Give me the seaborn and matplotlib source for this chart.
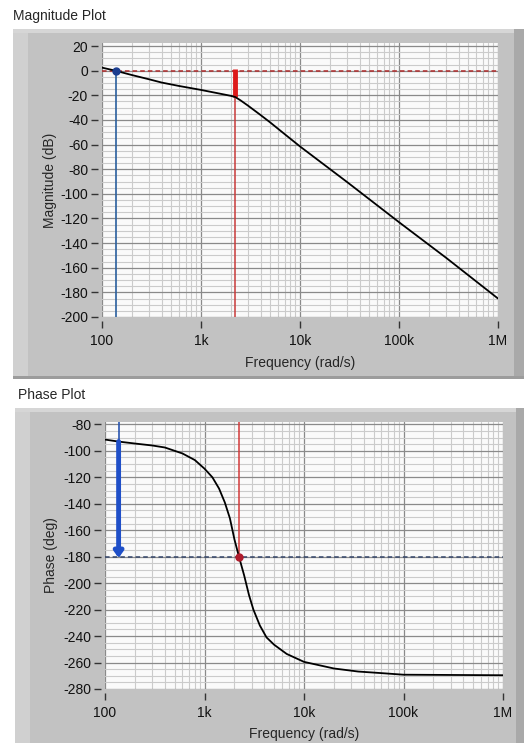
import numpy as np
import pandas as pd
import matplotlib
matplotlib.use("Agg")
import matplotlib.pyplot as plt
from matplotlib.patches import Rectangle
from matplotlib.ticker import FixedLocator, FixedFormatter, MultipleLocator, LogLocator, NullFormatter
import seaborn as sns

# values
mag_freq = [100, 137, 200, 300, 400, 600, 1000, 1500, 2000, 2220, 2500, 3000,
            4000, 5000, 7000, 10000, 30000, 100000, 300000, 1000000]
mag_db = [2.5, 0, -3.5, -7, -9.6, -12.4, -15.6, -18.4, -20.4, -21.4, -24, -28.5,
          -36, -42, -51.5, -61.5, -90.5, -123, -152, -185]

phase_freq = [100, 136, 200, 300, 400, 600, 800, 1000, 1200, 1400, 1600, 1800,
              2000, 2220, 2500, 2800, 3100, 3600, 4200, 5000, 6700, 10000,
              20000, 35000, 60000, 100000, 1000000]
phase_deg = [-91.5, -93, -94.5, -96, -97.5, -102, -107, -113.5, -120, -128.5,
             -139, -151, -167, -180, -194, -209, -220, -232, -241, -246.5,
             -253.5, -259.5, -264.5, -266.8, -268, -269.2, -269.6]

gain_cross_freq = 137      # blue cursor
phase_cross_freq = 2220    # red cursor
gain_margin_db = -21.4
phase_at_gain_cross = -93

freq_ticks = [100, 1e3, 1e4, 1e5, 1e6]
freq_tick_labels = ["100", "1k", "10k", "100k", "1M"]
mag_ticks = list(range(-200, 21, 20))
phase_ticks = list(range(-280, -79, 20))

sns.set_style("white")
plt.rcParams["font.family"] = ["Liberation Sans", "DejaVu Sans"]
plt.rcParams["axes.unicode_minus"] = False

W, H = 524, 743
fig = plt.figure(figsize=(W / 100, H / 100), dpi=100)
fig.patch.set_facecolor("white")


def px_rect(x0, y0, x1, y1, color):
    # rectangle given in picture pixels (top-left origin)
    fig.add_artist(Rectangle((x0 / W, 1 - y1 / H), (x1 - x0) / W, (y1 - y0) / H,
                             transform=fig.transFigure, facecolor=color,
                             edgecolor="none", zorder=-10))


def panel(x0, y0, y1, xr):
    px_rect(x0, y0, W, y1, "#c2c2c2")
    px_rect(x0, y0, x0 + 15, y1, "#d0d0d0")
    px_rect(x0, y0, W, y0 + 4, "#d6d6d6")
    px_rect(xr, y0, W, y1, "#a9a9a9")


panel(13, 29, 378, 514)
px_rect(13, 376, W, 379, "#9c9c9c")
panel(15, 408, H, 516)

fig.text(13 / W, 1 - 16 / H, "Magnitude Plot", fontsize=10, va="center", ha="left")
fig.text(18 / W, 1 - 395 / H, "Phase Plot", fontsize=10, va="center", ha="left")


def px_axes(x0, y0, x1, y1):
    return fig.add_axes([x0 / W, 1 - y1 / H, (x1 - x0) / W, (y1 - y0) / H])


def style(ax, yticks, ylim):
    ax.set_facecolor("#fafafa")
    ax.set_xscale("log")
    ax.set_xlim(100, 1e6)
    ax.set_ylim(*ylim)
    ax.xaxis.set_major_locator(FixedLocator(freq_ticks))
    ax.xaxis.set_major_formatter(FixedFormatter(freq_tick_labels))
    ax.xaxis.set_minor_locator(LogLocator(base=10, subs=range(2, 10)))
    ax.xaxis.set_minor_formatter(NullFormatter())
    ax.yaxis.set_major_locator(FixedLocator(yticks))
    ax.yaxis.set_minor_locator(MultipleLocator(5))
    ax.grid(which="minor", color="#cbcbcb", lw=0.8)
    ax.grid(which="major", color="#8a8a8a", lw=0.9)
    ax.set_axisbelow(True)
    for side in ["top", "right"]:
        ax.spines[side].set_visible(False)
    for side in ["bottom", "left"]:
        ax.spines[side].set_position(("outward", 3))
        ax.spines[side].set_color("none")
    ax.tick_params(which="major", bottom=True, left=True, direction="out",
                   length=5, width=1, color="#333333", labelsize=10, pad=2,
                   labelcolor="#111111")
    ax.tick_params(axis="x", which="major", pad=4)
    ax.tick_params(which="minor", bottom=False, left=False, length=0)
    ax.set_xlabel("Frequency (rad/s)", fontsize=10)


# ---- magnitude ----
ax1 = px_axes(102, 43, 498, 317)
style(ax1, mag_ticks, (-200, 22.5))
mag_df = pd.DataFrame({"freq": mag_freq, "db": mag_db})
sns.lineplot(data=mag_df, x="freq", y="db", ax=ax1, color="black", lw=1.3,
             estimator=None, sort=True, zorder=5)
ax1.axhline(0, color="#b02a2a", lw=1.1, ls=(0, (3, 2)), zorder=4)
ax1.vlines(gain_cross_freq, -200, 0, color="#2a5f9e", lw=1.2, zorder=4)
ax1.plot([gain_cross_freq], [0], "o", color="#1c3d8f", ms=5, zorder=6)
ax1.vlines(phase_cross_freq, -200, 0, color="#c83a3a", lw=1.1, zorder=4)
ax1.vlines(phase_cross_freq, gain_margin_db, 1.5, color="#dd1a1a", lw=3.5, zorder=4)
ax1.set_ylabel("Magnitude (dB)", fontsize=10)
ax1.yaxis.set_label_coords(-0.114, 0.5)
ax1.xaxis.set_label_coords(0.5, -0.142)
ax1.xaxis.label.set_va("top")

# ---- phase ----
ax2 = px_axes(105, 421.7, 503, 689)
style(ax2, phase_ticks, (-280, -78))
ph_df = pd.DataFrame({"freq": phase_freq, "deg": phase_deg})
sns.lineplot(data=ph_df, x="freq", y="deg", ax=ax2, color="black", lw=1.3,
             estimator=None, sort=True, zorder=5)
ax2.axhline(-180, color="#34466a", lw=1.1, ls=(0, (3, 2)), zorder=4)
ax2.vlines(gain_cross_freq, -180, -78, color="#2a55b0", lw=1.2, zorder=4)
ax2.annotate("", xy=(gain_cross_freq, -181), xytext=(gain_cross_freq, phase_at_gain_cross),
             arrowprops=dict(arrowstyle="-|>,head_width=0.25,head_length=0.35",
                             color="#1f4fc8", lw=3.5, shrinkA=0, shrinkB=0), zorder=6)
ax2.vlines(phase_cross_freq, -180, -78, color="#d23a3a", lw=1.1, zorder=4)
ax2.plot([phase_cross_freq], [-180], "o", color="#b01c2c", ms=5, zorder=6)
ax2.set_ylabel("Phase (deg)", fontsize=10)
ax2.yaxis.set_label_coords(-0.118, 0.5)
ax2.xaxis.set_label_coords(0.5, -0.142)
ax2.xaxis.label.set_va("top")

fig.savefig("out.png", dpi=100)
